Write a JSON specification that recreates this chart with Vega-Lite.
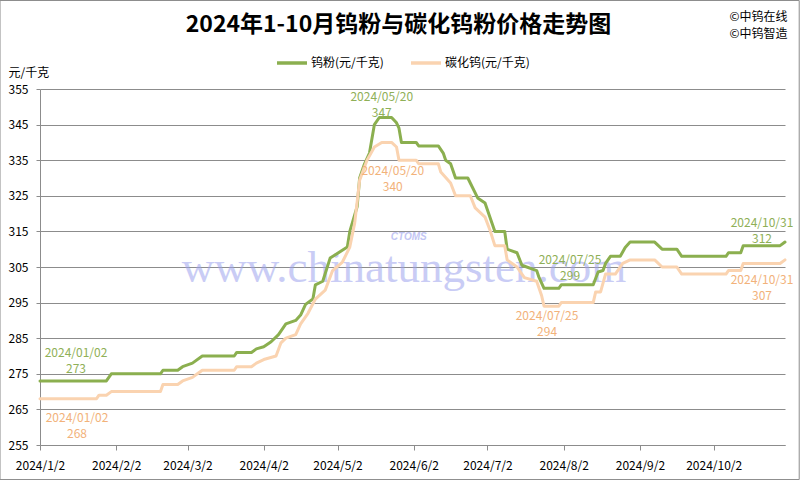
{
  "$schema": "https://vega.github.io/schema/vega-lite/v6.json",
  "autosize": {"type": "none"},
  "padding": {"left": 40, "top": 89, "right": 15, "bottom": 35},
  "width": 745,
  "height": 356,
  "background": "white",
  "title": {
    "text": "2024年1-10月钨粉与碳化钨粉价格走势图",
    "font": "Noto Sans CJK SC",
    "fontSize": 23,
    "fontWeight": "bold",
    "color": "#000000",
    "anchor": "middle",
    "frame": "group",
    "dx": -14,
    "dy": 37,
    "offset": 0
  },
  "config": {
    "font": "Noto Sans CJK SC",
    "view": {"stroke": null},
    "axis": {"labelFont": "Noto Sans CJK SC", "titleFont": "Noto Sans CJK SC"}
  },
  "resolve": {"axis": {"x": "independent", "y": "independent"}},
  "datasets": {
    "prices": [
      {"date": "2024-01-02", "series": "钨粉(元/千克)", "price": 273},
      {"date": "2024-01-29", "series": "钨粉(元/千克)", "price": 273},
      {"date": "2024-01-31", "series": "钨粉(元/千克)", "price": 275},
      {"date": "2024-02-20", "series": "钨粉(元/千克)", "price": 275},
      {"date": "2024-02-21", "series": "钨粉(元/千克)", "price": 276},
      {"date": "2024-02-27", "series": "钨粉(元/千克)", "price": 276},
      {"date": "2024-02-29", "series": "钨粉(元/千克)", "price": 277},
      {"date": "2024-03-04", "series": "钨粉(元/千克)", "price": 278},
      {"date": "2024-03-08", "series": "钨粉(元/千克)", "price": 280},
      {"date": "2024-03-21", "series": "钨粉(元/千克)", "price": 280},
      {"date": "2024-03-22", "series": "钨粉(元/千克)", "price": 281},
      {"date": "2024-03-28", "series": "钨粉(元/千克)", "price": 281},
      {"date": "2024-03-30", "series": "钨粉(元/千克)", "price": 282},
      {"date": "2024-04-02", "series": "钨粉(元/千克)", "price": 282.6},
      {"date": "2024-04-05", "series": "钨粉(元/千克)", "price": 284},
      {"date": "2024-04-08", "series": "钨粉(元/千克)", "price": 286},
      {"date": "2024-04-11", "series": "钨粉(元/千克)", "price": 289},
      {"date": "2024-04-15", "series": "钨粉(元/千克)", "price": 290},
      {"date": "2024-04-17", "series": "钨粉(元/千克)", "price": 291.5},
      {"date": "2024-04-19", "series": "钨粉(元/千克)", "price": 294.5},
      {"date": "2024-04-22", "series": "钨粉(元/千克)", "price": 296},
      {"date": "2024-04-23", "series": "钨粉(元/千克)", "price": 300},
      {"date": "2024-04-26", "series": "钨粉(元/千克)", "price": 301},
      {"date": "2024-04-29", "series": "钨粉(元/千克)", "price": 307.5},
      {"date": "2024-05-06", "series": "钨粉(元/千克)", "price": 310.6},
      {"date": "2024-05-07", "series": "钨粉(元/千克)", "price": 315},
      {"date": "2024-05-10", "series": "钨粉(元/千克)", "price": 322},
      {"date": "2024-05-11", "series": "钨粉(元/千克)", "price": 330},
      {"date": "2024-05-13", "series": "钨粉(元/千克)", "price": 334},
      {"date": "2024-05-15", "series": "钨粉(元/千克)", "price": 337},
      {"date": "2024-05-17", "series": "钨粉(元/千克)", "price": 345},
      {"date": "2024-05-19", "series": "钨粉(元/千克)", "price": 347},
      {"date": "2024-05-20", "series": "钨粉(元/千克)", "price": 347},
      {"date": "2024-05-24", "series": "钨粉(元/千克)", "price": 347},
      {"date": "2024-05-26", "series": "钨粉(元/千克)", "price": 345.5},
      {"date": "2024-05-27", "series": "钨粉(元/千克)", "price": 344},
      {"date": "2024-05-28", "series": "钨粉(元/千克)", "price": 340},
      {"date": "2024-06-03", "series": "钨粉(元/千克)", "price": 340},
      {"date": "2024-06-04", "series": "钨粉(元/千克)", "price": 339},
      {"date": "2024-06-12", "series": "钨粉(元/千克)", "price": 339},
      {"date": "2024-06-14", "series": "钨粉(元/千克)", "price": 337},
      {"date": "2024-06-15", "series": "钨粉(元/千克)", "price": 335},
      {"date": "2024-06-17", "series": "钨粉(元/千克)", "price": 334},
      {"date": "2024-06-19", "series": "钨粉(元/千克)", "price": 330},
      {"date": "2024-06-24", "series": "钨粉(元/千克)", "price": 330},
      {"date": "2024-06-25", "series": "钨粉(元/千克)", "price": 328.6},
      {"date": "2024-06-28", "series": "钨粉(元/千克)", "price": 324.4},
      {"date": "2024-07-01", "series": "钨粉(元/千克)", "price": 323},
      {"date": "2024-07-05", "series": "钨粉(元/千克)", "price": 315},
      {"date": "2024-07-09", "series": "钨粉(元/千克)", "price": 315},
      {"date": "2024-07-10", "series": "钨粉(元/千克)", "price": 310},
      {"date": "2024-07-14", "series": "钨粉(元/千克)", "price": 309},
      {"date": "2024-07-16", "series": "钨粉(元/千克)", "price": 305.5},
      {"date": "2024-07-22", "series": "钨粉(元/千克)", "price": 304},
      {"date": "2024-07-23", "series": "钨粉(元/千克)", "price": 302},
      {"date": "2024-07-25", "series": "钨粉(元/千克)", "price": 299},
      {"date": "2024-07-31", "series": "钨粉(元/千克)", "price": 299},
      {"date": "2024-08-01", "series": "钨粉(元/千克)", "price": 300},
      {"date": "2024-08-14", "series": "钨粉(元/千克)", "price": 300},
      {"date": "2024-08-16", "series": "钨粉(元/千克)", "price": 303.6},
      {"date": "2024-08-18", "series": "钨粉(元/千克)", "price": 304},
      {"date": "2024-08-19", "series": "钨粉(元/千克)", "price": 306},
      {"date": "2024-08-21", "series": "钨粉(元/千克)", "price": 308},
      {"date": "2024-08-25", "series": "钨粉(元/千克)", "price": 308},
      {"date": "2024-08-27", "series": "钨粉(元/千克)", "price": 310.5},
      {"date": "2024-08-29", "series": "钨粉(元/千克)", "price": 312},
      {"date": "2024-09-08", "series": "钨粉(元/千克)", "price": 312},
      {"date": "2024-09-11", "series": "钨粉(元/千克)", "price": 310},
      {"date": "2024-09-17", "series": "钨粉(元/千克)", "price": 310},
      {"date": "2024-09-19", "series": "钨粉(元/千克)", "price": 308},
      {"date": "2024-10-07", "series": "钨粉(元/千克)", "price": 308},
      {"date": "2024-10-08", "series": "钨粉(元/千克)", "price": 309},
      {"date": "2024-10-13", "series": "钨粉(元/千克)", "price": 309},
      {"date": "2024-10-14", "series": "钨粉(元/千克)", "price": 311},
      {"date": "2024-10-29", "series": "钨粉(元/千克)", "price": 311},
      {"date": "2024-10-31", "series": "钨粉(元/千克)", "price": 312},
      {"date": "2024-01-02", "series": "碳化钨(元/千克)", "price": 268},
      {"date": "2024-01-25", "series": "碳化钨(元/千克)", "price": 268},
      {"date": "2024-01-26", "series": "碳化钨(元/千克)", "price": 269},
      {"date": "2024-01-29", "series": "碳化钨(元/千克)", "price": 269},
      {"date": "2024-01-31", "series": "碳化钨(元/千克)", "price": 270},
      {"date": "2024-02-20", "series": "碳化钨(元/千克)", "price": 270},
      {"date": "2024-02-21", "series": "碳化钨(元/千克)", "price": 272},
      {"date": "2024-02-27", "series": "碳化钨(元/千克)", "price": 272},
      {"date": "2024-02-29", "series": "碳化钨(元/千克)", "price": 273},
      {"date": "2024-03-04", "series": "碳化钨(元/千克)", "price": 274},
      {"date": "2024-03-06", "series": "碳化钨(元/千克)", "price": 275},
      {"date": "2024-03-08", "series": "碳化钨(元/千克)", "price": 276},
      {"date": "2024-03-21", "series": "碳化钨(元/千克)", "price": 276},
      {"date": "2024-03-22", "series": "碳化钨(元/千克)", "price": 277},
      {"date": "2024-03-28", "series": "碳化钨(元/千克)", "price": 277},
      {"date": "2024-03-30", "series": "碳化钨(元/千克)", "price": 278},
      {"date": "2024-04-02", "series": "碳化钨(元/千克)", "price": 279},
      {"date": "2024-04-07", "series": "碳化钨(元/千克)", "price": 280},
      {"date": "2024-04-09", "series": "碳化钨(元/千克)", "price": 283.7},
      {"date": "2024-04-11", "series": "碳化钨(元/千克)", "price": 285},
      {"date": "2024-04-15", "series": "碳化钨(元/千克)", "price": 286},
      {"date": "2024-04-17", "series": "碳化钨(元/千克)", "price": 289},
      {"date": "2024-04-20", "series": "碳化钨(元/千克)", "price": 292},
      {"date": "2024-04-23", "series": "碳化钨(元/千克)", "price": 296},
      {"date": "2024-04-27", "series": "碳化钨(元/千克)", "price": 298.5},
      {"date": "2024-04-30", "series": "碳化钨(元/千克)", "price": 304},
      {"date": "2024-05-04", "series": "碳化钨(元/千克)", "price": 306.4},
      {"date": "2024-05-07", "series": "碳化钨(元/千克)", "price": 310.6},
      {"date": "2024-05-09", "series": "碳化钨(元/千克)", "price": 317.4},
      {"date": "2024-05-11", "series": "碳化钨(元/千克)", "price": 329.4},
      {"date": "2024-05-14", "series": "碳化钨(元/千克)", "price": 335},
      {"date": "2024-05-17", "series": "碳化钨(元/千克)", "price": 338.7},
      {"date": "2024-05-20", "series": "碳化钨(元/千克)", "price": 340},
      {"date": "2024-05-24", "series": "碳化钨(元/千克)", "price": 340},
      {"date": "2024-05-26", "series": "碳化钨(元/千克)", "price": 338.7},
      {"date": "2024-05-27", "series": "碳化钨(元/千克)", "price": 335},
      {"date": "2024-06-03", "series": "碳化钨(元/千克)", "price": 335},
      {"date": "2024-06-04", "series": "碳化钨(元/千克)", "price": 334},
      {"date": "2024-06-12", "series": "碳化钨(元/千克)", "price": 334},
      {"date": "2024-06-13", "series": "碳化钨(元/千克)", "price": 331.7},
      {"date": "2024-06-17", "series": "碳化钨(元/千克)", "price": 328.6},
      {"date": "2024-06-19", "series": "碳化钨(元/千克)", "price": 325},
      {"date": "2024-06-25", "series": "碳化钨(元/千克)", "price": 325},
      {"date": "2024-06-27", "series": "碳化钨(元/千克)", "price": 321.6},
      {"date": "2024-07-01", "series": "碳化钨(元/千克)", "price": 319},
      {"date": "2024-07-03", "series": "碳化钨(元/千克)", "price": 315.4},
      {"date": "2024-07-05", "series": "碳化钨(元/千克)", "price": 311},
      {"date": "2024-07-09", "series": "碳化钨(元/千克)", "price": 311},
      {"date": "2024-07-10", "series": "碳化钨(元/千克)", "price": 307},
      {"date": "2024-07-14", "series": "碳化钨(元/千克)", "price": 305},
      {"date": "2024-07-17", "series": "碳化钨(元/千克)", "price": 302},
      {"date": "2024-07-22", "series": "碳化钨(元/千克)", "price": 301},
      {"date": "2024-07-24", "series": "碳化钨(元/千克)", "price": 297},
      {"date": "2024-07-25", "series": "碳化钨(元/千克)", "price": 294},
      {"date": "2024-07-31", "series": "碳化钨(元/千克)", "price": 294},
      {"date": "2024-08-01", "series": "碳化钨(元/千克)", "price": 295},
      {"date": "2024-08-14", "series": "碳化钨(元/千克)", "price": 295},
      {"date": "2024-08-15", "series": "碳化钨(元/千克)", "price": 298},
      {"date": "2024-08-17", "series": "碳化钨(元/千克)", "price": 298},
      {"date": "2024-08-19", "series": "碳化钨(元/千克)", "price": 303},
      {"date": "2024-08-23", "series": "碳化钨(元/千克)", "price": 303},
      {"date": "2024-08-26", "series": "碳化钨(元/千克)", "price": 306},
      {"date": "2024-08-29", "series": "碳化钨(元/千克)", "price": 307},
      {"date": "2024-09-08", "series": "碳化钨(元/千克)", "price": 307},
      {"date": "2024-09-11", "series": "碳化钨(元/千克)", "price": 305},
      {"date": "2024-09-17", "series": "碳化钨(元/千克)", "price": 305},
      {"date": "2024-09-19", "series": "碳化钨(元/千克)", "price": 303},
      {"date": "2024-10-07", "series": "碳化钨(元/千克)", "price": 303},
      {"date": "2024-10-08", "series": "碳化钨(元/千克)", "price": 304},
      {"date": "2024-10-13", "series": "碳化钨(元/千克)", "price": 304},
      {"date": "2024-10-14", "series": "碳化钨(元/千克)", "price": 306},
      {"date": "2024-10-29", "series": "碳化钨(元/千克)", "price": 306},
      {"date": "2024-10-31", "series": "碳化钨(元/千克)", "price": 307}
    ],
    "labels": [
      {"key": "g1", "date": "2024-01-02", "price": 273, "label": "2024/01/02\n273"},
      {"key": "g2", "date": "2024-05-20", "price": 347, "label": "2024/05/20\n347"},
      {"key": "g3", "date": "2024-07-25", "price": 299, "label": "2024/07/25\n299"},
      {"key": "g4", "date": "2024-10-31", "price": 312, "label": "2024/10/31\n312"},
      {"key": "o1", "date": "2024-01-02", "price": 268, "label": "2024/01/02\n268"},
      {"key": "o2", "date": "2024-05-20", "price": 340, "label": "2024/05/20\n340"},
      {"key": "o3", "date": "2024-07-25", "price": 294, "label": "2024/07/25\n294"},
      {"key": "o4", "date": "2024-10-31", "price": 307, "label": "2024/10/31\n307"}
    ],
    "one": [{"k": 1}]
  },
  "layer": [
    {
      "data": {"name": "prices"},
      "mark": {"type": "line", "strokeWidth": 3, "opacity": 0},
      "encoding": {
        "x": {
          "field": "date", "type": "temporal",
          "scale": {"type": "utc", "domain": [{"year": 2024, "month": 1, "date": 2, "utc": true}, {"year": 2024, "month": 10, "date": 31, "utc": true}]},
          "axis": {
            "title": null,
            "labelExpr": "utcFormat(datum.value, '%Y/%-m/%-d')",
            "values": [
              {"year": 2024, "month": 1, "date": 2, "utc": true},
              {"year": 2024, "month": 2, "date": 2, "utc": true},
              {"year": 2024, "month": 3, "date": 2, "utc": true},
              {"year": 2024, "month": 4, "date": 2, "utc": true},
              {"year": 2024, "month": 5, "date": 2, "utc": true},
              {"year": 2024, "month": 6, "date": 2, "utc": true},
              {"year": 2024, "month": 7, "date": 2, "utc": true},
              {"year": 2024, "month": 8, "date": 2, "utc": true},
              {"year": 2024, "month": 9, "date": 2, "utc": true},
              {"year": 2024, "month": 10, "date": 2, "utc": true}
            ],
            "grid": false,
            "domainColor": "#8c8c8c",
            "tickColor": "#8c8c8c",
            "tickSize": 5,
            "labelPadding": 10,
            "labelFontSize": 12,
            "labelColor": "#000000",
            "labelAngle": 0,
            "labelFlush": false,
            "labelOverlap": false
          }
        },
        "y": {
          "field": "price", "type": "quantitative",
          "scale": {"domain": [255, 355], "nice": false, "zero": false},
          "axis": {
            "title": "元/千克",
            "titleAngle": 0,
            "titleX": -32,
            "titleY": -17,
            "titleAlign": "left",
            "titleBaseline": "middle",
            "titleFontSize": 12,
            "titleFontWeight": "normal",
            "titleColor": "#000000",
            "values": [255, 265, 275, 285, 295, 305, 315, 325, 335, 345, 355],
            "grid": true,
            "gridColor": "#8c8c8c",
            "gridWidth": 1,
            "domainColor": "#8c8c8c",
            "tickColor": "#8c8c8c",
            "tickSize": 4,
            "labelPadding": 8,
            "labelFontSize": 12,
            "labelColor": "#000000",
            "labelOverlap": false
          }
        },
        "detail": {"field": "series", "type": "nominal"}
      }
    },
    {
      "data": {"name": "one"},
      "mark": {"type": "rect", "fill": null, "stroke": "#8c8c8c", "strokeWidth": 1, "clip": false},
      "encoding": {
        "x": {"datum": 1702748736000, "type": "temporal", "axis": null},
        "x2": {"datum": 1730832192000},
        "y": {"datum": 379.86, "type": "quantitative", "axis": null},
        "y2": {"datum": 245.3}
      }
    },
    {
      "data": {"name": "one"},
      "mark": {"type": "text", "text": "www.chinatungsten.com", "font": "Liberation Serif", "fontSize": 45, "align": "center", "baseline": "alphabetic", "color": "#9ea4ee", "opacity": 0.55},
      "encoding": {
        "x": {"datum": 1716940800000, "type": "temporal", "axis": null},
        "y": {"datum": 300.8, "type": "quantitative", "axis": null}
      }
    },
    {
      "data": {"name": "one"},
      "mark": {"type": "text", "text": "CTOMS", "font": "Liberation Sans", "fontSize": 10, "fontWeight": "bold", "fontStyle": "italic", "align": "center", "baseline": "middle", "color": "#a9aef0", "opacity": 0.7},
      "encoding": {
        "x": {"datum": 1717113600000, "type": "temporal", "axis": null},
        "y": {"datum": 313.4, "type": "quantitative", "axis": null}
      }
    },
    {
      "data": {"name": "prices"},
      "mark": {"type": "line", "strokeWidth": 3, "strokeJoin": "round", "strokeCap": "round"},
      "encoding": {
        "x": {"field": "date", "type": "temporal", "axis": null},
        "y": {"field": "price", "type": "quantitative", "axis": null},
        "color": {
          "field": "series", "type": "nominal",
          "scale": {"domain": ["钨粉(元/千克)", "碳化钨(元/千克)"], "range": ["#8BAF4F", "#FAD3B0"]},
          "legend": {
            "title": null,
            "orient": "none",
            "direction": "horizontal",
            "legendX": 235,
            "legendY": -43,
            "symbolType": "stroke",
            "symbolSize": 900,
            "symbolStrokeWidth": 3.5,
            "labelFontSize": 12,
            "labelColor": "#000000",
            "labelOffset": 2,
            "columnPadding": 20
          }
        }
      }
    },
    {
      "data": {"name": "labels"},
      "transform": [{"filter": "datum.key == 'g1'"}],
      "mark": {"type": "text", "lineBreak": "\n", "lineHeight": 16, "fontSize": 12, "align": "center", "baseline": "middle", "color": "#8FB057", "dx": 36, "dy": -27.5},
      "encoding": {"x": {"field": "date", "type": "temporal", "axis": null}, "y": {"field": "price", "type": "quantitative", "axis": null}, "text": {"field": "label"}}
    },
    {
      "data": {"name": "labels"},
      "transform": [{"filter": "datum.key == 'g2'"}],
      "mark": {"type": "text", "lineBreak": "\n", "lineHeight": 16, "fontSize": 12, "align": "center", "baseline": "middle", "color": "#8FB057", "dx": 0, "dy": -20.5},
      "encoding": {"x": {"field": "date", "type": "temporal", "axis": null}, "y": {"field": "price", "type": "quantitative", "axis": null}, "text": {"field": "label"}}
    },
    {
      "data": {"name": "labels"},
      "transform": [{"filter": "datum.key == 'g3'"}],
      "mark": {"type": "text", "lineBreak": "\n", "lineHeight": 16, "fontSize": 12, "align": "center", "baseline": "middle", "color": "#8FB057", "dx": 26, "dy": -28.5},
      "encoding": {"x": {"field": "date", "type": "temporal", "axis": null}, "y": {"field": "price", "type": "quantitative", "axis": null}, "text": {"field": "label"}}
    },
    {
      "data": {"name": "labels"},
      "transform": [{"filter": "datum.key == 'g4'"}],
      "mark": {"type": "text", "lineBreak": "\n", "lineHeight": 16, "fontSize": 12, "align": "center", "baseline": "middle", "color": "#8FB057", "dx": -23, "dy": -19.5},
      "encoding": {"x": {"field": "date", "type": "temporal", "axis": null}, "y": {"field": "price", "type": "quantitative", "axis": null}, "text": {"field": "label"}}
    },
    {
      "data": {"name": "labels"},
      "transform": [{"filter": "datum.key == 'o1'"}],
      "mark": {"type": "text", "lineBreak": "\n", "lineHeight": 16, "fontSize": 12, "align": "center", "baseline": "middle", "color": "#F2B27A", "dx": 37, "dy": 19},
      "encoding": {"x": {"field": "date", "type": "temporal", "axis": null}, "y": {"field": "price", "type": "quantitative", "axis": null}, "text": {"field": "label"}}
    },
    {
      "data": {"name": "labels"},
      "transform": [{"filter": "datum.key == 'o2'"}],
      "mark": {"type": "text", "lineBreak": "\n", "lineHeight": 16, "fontSize": 12, "align": "center", "baseline": "middle", "color": "#F2B27A", "dx": 11, "dy": 28.5},
      "encoding": {"x": {"field": "date", "type": "temporal", "axis": null}, "y": {"field": "price", "type": "quantitative", "axis": null}, "text": {"field": "label"}}
    },
    {
      "data": {"name": "labels"},
      "transform": [{"filter": "datum.key == 'o3'"}],
      "mark": {"type": "text", "lineBreak": "\n", "lineHeight": 16, "fontSize": 12, "align": "center", "baseline": "middle", "color": "#F2B27A", "dx": 3, "dy": 10},
      "encoding": {"x": {"field": "date", "type": "temporal", "axis": null}, "y": {"field": "price", "type": "quantitative", "axis": null}, "text": {"field": "label"}}
    },
    {
      "data": {"name": "labels"},
      "transform": [{"filter": "datum.key == 'o4'"}],
      "mark": {"type": "text", "lineBreak": "\n", "lineHeight": 16, "fontSize": 12, "align": "center", "baseline": "middle", "color": "#F2B27A", "dx": -23, "dy": 20.5},
      "encoding": {"x": {"field": "date", "type": "temporal", "axis": null}, "y": {"field": "price", "type": "quantitative", "axis": null}, "text": {"field": "label"}}
    },
    {
      "data": {"name": "one"},
      "mark": {"type": "text", "text": ["©中钨在线", "©中钨智造"], "lineHeight": 17, "fontSize": 12, "align": "right", "baseline": "middle", "color": "#000000", "clip": false},
      "encoding": {
        "x": {"datum": 1730419200000, "type": "temporal", "axis": null},
        "y": {"datum": 375.1, "type": "quantitative", "axis": null}
      }
    }
  ]
}
